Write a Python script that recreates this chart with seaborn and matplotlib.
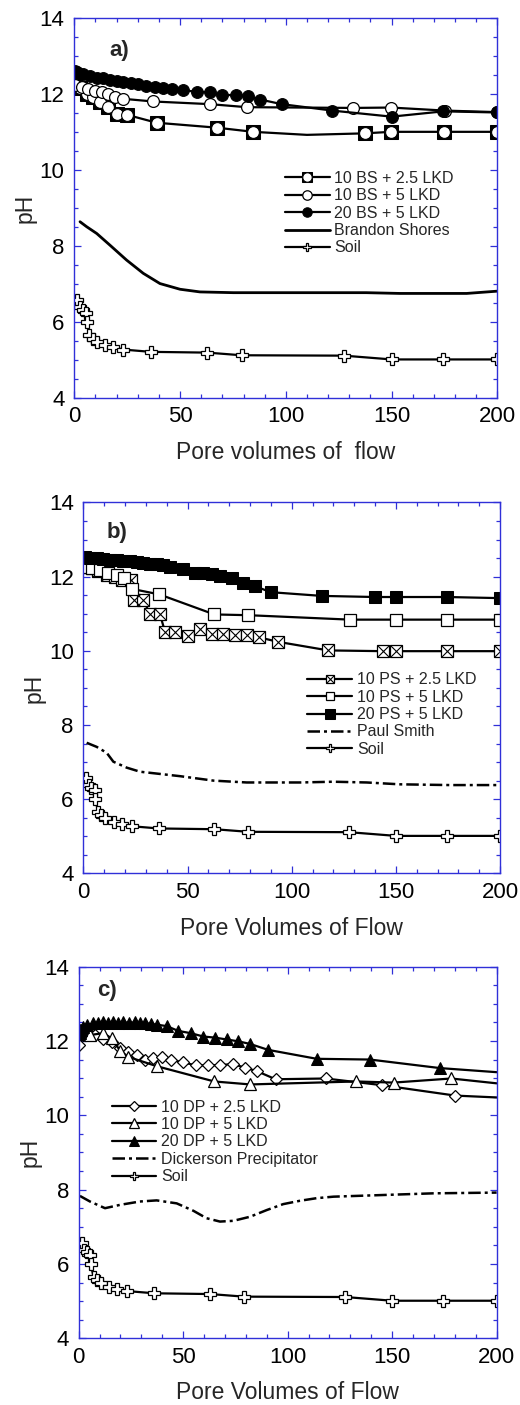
import numpy as np
import pandas as pd
import matplotlib
matplotlib.use("Agg")
import matplotlib.pyplot as plt
from matplotlib.legend_handler import HandlerTuple
from matplotlib.ticker import MultipleLocator
import seaborn as sns

sns.set_style("ticks")
plt.rcParams["font.family"] = ["Liberation Sans", "DejaVu Sans"]

# ---------------- Soil (same column test in every panel) ----------------
soil_x = [1.4, 2.7, 3.9, 5.5, 5.8, 7.1, 8.7, 10.6, 14.5, 18.4, 23.2, 36.2, 62.9, 79.1, 127.5, 150, 174.5, 200]
soil_y = [6.57, 6.38, 6.31, 6.24, 6.0, 5.65, 5.56, 5.48, 5.39, 5.33, 5.27, 5.21, 5.19, 5.12, 5.11, 5.01, 5.01, 5.01]

# ---------------- a) Brandon Shores ----------------
bs25_x = [0.5, 2.7, 5.8, 9.0, 12.1, 16.1, 20.0, 24.8, 38.9, 67.3, 84.6, 110, 137.4, 149.7, 174.9, 199.7]
bs25_y = [12.25, 12.16, 12.02, 11.93, 11.80, 11.67, 11.48, 11.46, 11.25, 11.12, 11.01, 10.93, 10.97, 11.01, 11.01, 11.01]
bs25_mark = [True] * 11 + [False] + [True] * 4
bs5_x = [0.3, 3.5, 6.6, 9.8, 12.9, 16.1, 19.2, 23.2, 37.3, 64.1, 81.5, 131.9, 149.7, 175.2, 199.7]
bs5_y = [12.24, 12.19, 12.13, 12.08, 12.05, 12.0, 11.94, 11.88, 11.81, 11.74, 11.66, 11.64, 11.65, 11.57, 11.53]
bs20_x = [0.2, 1.4, 4.3, 7.4, 10.6, 13.7, 16.9, 20.0, 23.2, 27.0, 30.0, 34.0, 38.0, 42.0, 46.0,
          51.5, 58.0, 64.0, 70.0, 76.5, 82.0, 88.0, 98.0, 122.0, 150.0, 174.5, 200.0]
bs20_y = [12.61, 12.60, 12.53, 12.48, 12.44, 12.42, 12.37, 12.35, 12.32, 12.29, 12.26, 12.23, 12.20, 12.16, 12.13,
          12.10, 12.07, 12.05, 11.98, 11.98, 11.95, 11.86, 11.74, 11.57, 11.41, 11.55, 11.52]
bsash_x = [2.7, 5.8, 10.6, 16.9, 24.7, 32.6, 40.5, 50.0, 59.4, 75.2, 106.7, 138.0, 154.0, 185.5, 200.0]
bsash_y = [8.64, 8.51, 8.33, 8.02, 7.63, 7.28, 7.01, 6.86, 6.79, 6.77, 6.77, 6.77, 6.75, 6.75, 6.81]

# ---------------- b) Paul Smith ----------------
ps25_x = [0.8, 4.0, 7.2, 11.2, 15.2, 18.4, 22.9, 24.3, 28.8, 32.0, 36.8, 39.2, 44.0, 50.1, 56.0,
          61.6, 67.2, 72.8, 78.7, 84.5, 93.6, 117.6, 143.7, 150, 174.4, 200]
ps25_y = [12.27, 12.22, 12.16, 12.04, 12.0, 11.91, 11.92, 11.38, 11.38, 10.98, 10.98, 10.51, 10.51, 10.40, 10.58,
          10.45, 10.44, 10.42, 10.42, 10.36, 10.24, 10.01, 9.99, 9.99, 9.99, 9.99]
ps5_x = [1.0, 4.0, 8.0, 12.0, 16.0, 19.5, 23.2, 36.5, 62.9, 79.2, 128.0, 150, 174.6, 200]
ps5_y = [12.26, 12.22, 12.17, 12.11, 12.05, 11.96, 11.67, 11.52, 10.98, 10.96, 10.84, 10.84, 10.84, 10.84]
ps20_x = [0.8, 3.2, 6.4, 9.6, 12.8, 16.0, 19.2, 22.4, 25.6, 28.8, 32.0, 35.2, 38.4, 41.6, 48.0,
          53.6, 57.6, 61.6, 65.6, 71.2, 76.8, 82.4, 90.0, 114.4, 140.0, 150.0, 174.6, 200.0]
ps20_y = [12.52, 12.51, 12.49, 12.47, 12.46, 12.45, 12.43, 12.41, 12.39, 12.37, 12.35, 12.33, 12.30, 12.27, 12.20,
          12.10, 12.09, 12.06, 12.01, 11.95, 11.84, 11.74, 11.58, 11.48, 11.45, 11.45, 11.45, 11.42]
psash_x = [1.6, 6.4, 11.2, 14.4, 20.8, 27.2, 36.8, 46.4, 62.4, 78.4, 104.0, 120.0, 136.0, 152.0, 176.0, 200.0]
psash_y = [7.52, 7.41, 7.25, 7.01, 6.85, 6.74, 6.68, 6.62, 6.50, 6.45, 6.45, 6.47, 6.45, 6.40, 6.38, 6.38]

# ---------------- c) Dickerson Precipitator ----------------
dp25_x = [0.2, 2.0, 3.8, 7.8, 11.8, 15.8, 19.8, 23.8, 27.8, 31.7, 35.4, 39.7, 44.0, 49.8, 56.1,
          62.0, 67.6, 73.9, 79.6, 85.2, 94.2, 118.2, 145.2, 180.2, 200.0]
dp25_y = [11.89, 12.15, 12.16, 12.16, 12.05, 11.98, 11.80, 11.70, 11.61, 11.49, 11.53, 11.58, 11.49, 11.43, 11.34,
          11.35, 11.35, 11.38, 11.28, 11.19, 10.97, 10.99, 10.81, 10.53, 10.48]
dp5_x = [0.5, 2.2, 5.4, 11.8, 15.8, 19.8, 23.8, 37.4, 64.9, 82.1, 132.8, 150.7, 178.3, 200.0]
dp5_y = [12.30, 12.20, 12.16, 12.21, 12.07, 11.74, 11.57, 11.32, 10.91, 10.83, 10.91, 10.88, 10.99, 10.86]
dp20_x = [0.4, 1.2, 2.2, 4.0, 7.0, 9.4, 11.8, 14.2, 16.6, 19.0, 21.4, 24.2, 27.0, 29.4, 31.7, 34.5, 37.3,
          42.1, 47.7, 53.6, 59.6, 65.2, 70.8, 76.4, 82.0, 90.7, 113.9, 139.4, 172.9, 200.0]
dp20_y = [12.22, 12.30, 12.37, 12.42, 12.47, 12.48, 12.50, 12.49, 12.50, 12.49, 12.50, 12.49, 12.50, 12.48, 12.48,
          12.46, 12.44, 12.40, 12.27, 12.21, 12.12, 12.09, 12.04, 11.99, 11.92, 11.76, 11.52, 11.50, 11.27, 11.16]
dpash_x = [0.6, 5.4, 12.6, 19.8, 29.3, 37.3, 46.9, 54.9, 61.2, 67.6, 74.0, 82.0, 90.0, 97.9, 105.9,
           113.9, 121.9, 137.8, 153.7, 169.7, 200.0]
dpash_y = [7.83, 7.68, 7.50, 7.59, 7.68, 7.71, 7.63, 7.43, 7.23, 7.14, 7.16, 7.27, 7.45, 7.61, 7.70,
           7.77, 7.81, 7.84, 7.87, 7.90, 7.92]

BLUE = "#3030d8"
LW = 1.6
DASHDOT = (5, 1.6, 1.2, 1.6)

fig = plt.figure(figsize=(5.2, 14.05), dpi=100)
ax_a = fig.add_axes([0.1429, 0.7169, 0.8135, 0.2700])
ax_b = fig.add_axes([0.1603, 0.3784, 0.8013, 0.2640])
ax_c = fig.add_axes([0.1513, 0.0475, 0.8038, 0.2645])


def series(ax, x, y, **kw):
    df = pd.DataFrame({"x": x, "y": y})
    sns.lineplot(data=df, x="x", y="y", ax=ax, estimator=None, sort=False,
                 color="black", legend=False, **kw)
    return ax.lines[-1]


def style_axes(ax, xlabel, tag, tag_xy):
    ax.set_xlim(0, 200)
    ax.set_ylim(4, 14)
    ax.xaxis.set_major_locator(MultipleLocator(50))
    ax.xaxis.set_minor_locator(MultipleLocator(10))
    ax.yaxis.set_major_locator(MultipleLocator(2))
    ax.yaxis.set_minor_locator(MultipleLocator(0.5))
    for s in ax.spines.values():
        s.set_color(BLUE)
        s.set_linewidth(1.0)
        s.set_visible(True)
    ax.tick_params(which="both", direction="in", top=True, right=True,
                   color=BLUE, labelcolor="black", labelsize=16, width=0.9)
    ax.tick_params(axis="y", which="both", pad=7)
    ax.tick_params(axis="x", which="both", pad=6)
    ax.tick_params(which="major", length=5)
    ax.tick_params(which="minor", length=3)
    ax.set_xlabel(xlabel, fontsize=16.5, labelpad=10)
    ax.set_ylabel("pH", fontsize=16.5, labelpad=2)
    ax.text(tag_xy[0], tag_xy[1], tag, transform=ax.transAxes, fontsize=16,
            fontweight="bold", ha="left", va="center")


def legend(ax, handles, labels, anchor):
    ax.legend(handles, labels, loc="upper left", bbox_to_anchor=anchor, frameon=False,
              fontsize=11.5, handlelength=2.8, handletextpad=0.3, labelspacing=0.15,
              borderpad=0, borderaxespad=0, markerscale=0.8,
              handler_map={tuple: HandlerTuple(ndivide=1)})


# ---------------- panel a ----------------
h_a1 = series(ax_a, bs25_x, bs25_y, lw=LW, marker="s", markersize=9.5,
              markerfacecolor="black", markeredgecolor="black",
              markevery=[i for i, m in enumerate(bs25_mark) if m])
mx = [v for v, m in zip(bs25_x, bs25_mark) if m]
my = [v for v, m in zip(bs25_y, bs25_mark) if m]
h_a1b = series(ax_a, mx, my, linestyle="", marker="o", markersize=8.5,
               markerfacecolor="white", markeredgecolor="black", markeredgewidth=0.8)
h_a2 = series(ax_a, bs5_x, bs5_y, lw=LW, marker="o", markersize=8.5,
              markerfacecolor="white", markeredgecolor="black", markeredgewidth=0.9)
h_a3 = series(ax_a, bs20_x, bs20_y, lw=LW, marker="o", markersize=8.5,
              markerfacecolor="black", markeredgecolor="black")
h_a4 = series(ax_a, bsash_x, bsash_y, lw=2.0)
h_a5 = series(ax_a, soil_x, soil_y, lw=LW, marker="P", markersize=8,
              markerfacecolor="white", markeredgecolor="black", markeredgewidth=0.9)
style_axes(ax_a, "Pore volumes of  flow", "a)", (0.084, 0.916))
legend(ax_a, [(h_a1, h_a1b), h_a2, h_a3, h_a4, h_a5],
       ["10 BS + 2.5 LKD", "10 BS + 5 LKD", "20 BS + 5 LKD", "Brandon Shores", "Soil"],
       (0.498, 0.598))

# ---------------- panel b ----------------
h_b1 = series(ax_b, ps25_x, ps25_y, lw=LW, marker="s", markersize=8,
              markerfacecolor="white", markeredgecolor="black", markeredgewidth=0.9)
h_b1b = series(ax_b, ps25_x, ps25_y, linestyle="", marker="x", markersize=8,
               markeredgecolor="black", markeredgewidth=0.8)
h_b2 = series(ax_b, ps5_x, ps5_y, lw=LW, marker="s", markersize=8,
              markerfacecolor="white", markeredgecolor="black", markeredgewidth=0.9)
h_b3 = series(ax_b, ps20_x, ps20_y, lw=LW, marker="s", markersize=8.5,
              markerfacecolor="black", markeredgecolor="black")
h_b4 = series(ax_b, psash_x, psash_y, lw=1.8, dashes=DASHDOT)
h_b5 = series(ax_b, soil_x, soil_y, lw=LW, marker="P", markersize=8,
              markerfacecolor="white", markeredgecolor="black", markeredgewidth=0.9)
style_axes(ax_b, "Pore Volumes of Flow", "b)", (0.056, 0.92))
legend(ax_b, [(h_b1, h_b1b), h_b2, h_b3, h_b4, h_b5],
       ["10 PS + 2.5 LKD", "10 PS + 5 LKD", "20 PS + 5 LKD", "Paul Smith", "Soil"],
       (0.5376, 0.542))

# ---------------- panel c ----------------
h_c1 = series(ax_c, dp25_x, dp25_y, lw=LW, marker="D", markersize=6,
              markerfacecolor="white", markeredgecolor="black", markeredgewidth=0.9,
              markevery=slice(0, len(dp25_x) - 1))
h_c2 = series(ax_c, dp5_x, dp5_y, lw=LW, marker="^", markersize=8.5,
              markerfacecolor="white", markeredgecolor="black", markeredgewidth=0.9,
              markevery=slice(0, len(dp5_x) - 1))
h_c3 = series(ax_c, dp20_x, dp20_y, lw=LW, marker="^", markersize=8.5,
              markerfacecolor="black", markeredgecolor="black",
              markevery=slice(0, len(dp20_x) - 1))
h_c4 = series(ax_c, dpash_x, dpash_y, lw=1.8, dashes=DASHDOT)
h_c5 = series(ax_c, soil_x, soil_y, lw=LW, marker="P", markersize=8,
              markerfacecolor="white", markeredgecolor="black", markeredgewidth=0.9)
style_axes(ax_c, "Pore Volumes of Flow", "c)", (0.043, 0.937))
legend(ax_c, [h_c1, h_c2, h_c3, h_c4, h_c5],
       ["10 DP + 2.5 LKD", "10 DP + 5 LKD", "20 DP + 5 LKD", "Dickerson Precipitator", "Soil"],
       (0.079, 0.642))

fig.savefig("out.png", dpi=100)
